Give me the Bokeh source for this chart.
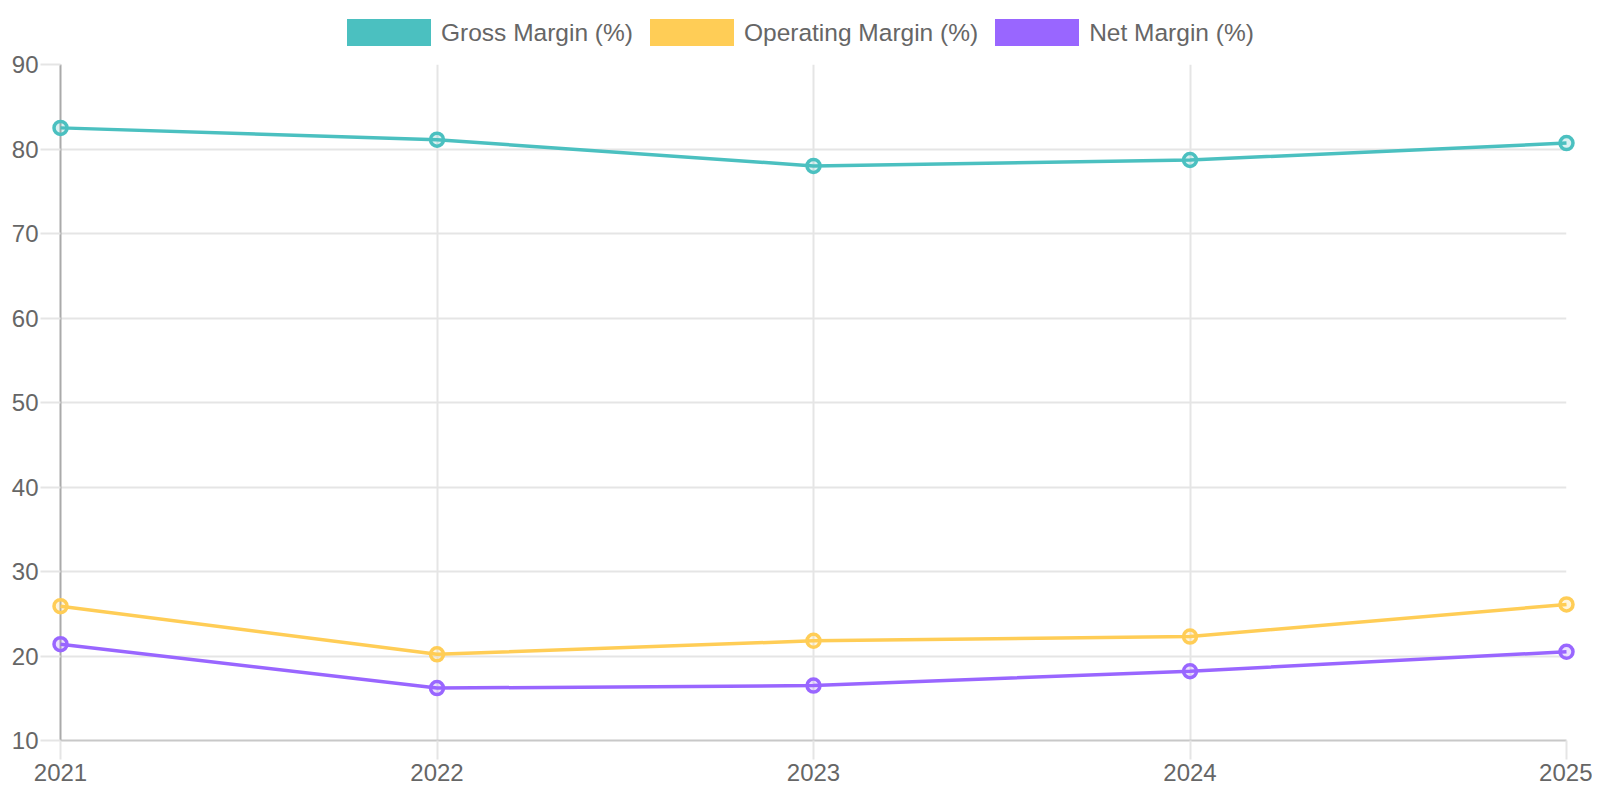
from bokeh.plotting import figure
from bokeh.models import ColumnDataSource, FixedTicker, Range1d, Legend, LegendItem
from bokeh.layouts import column
from bokeh.embed import file_html
from bokeh.resources import INLINE

years = [2021, 2022, 2023, 2024, 2025]
year_labels = ["2021", "2022", "2023", "2024", "2025"]
gross_margin = [82.5, 81.1, 78.0, 78.7, 80.7]
operating_margin = [25.9, 20.2, 21.8, 22.3, 26.1]
net_margin = [21.4, 16.2, 16.5, 18.2, 20.5]
y_ticks = [10, 20, 30, 40, 50, 60, 70, 80, 90]

series = [
    ("Gross Margin (%)", gross_margin, "#4BC0C0"),
    ("Operating Margin (%)", operating_margin, "#FFCD56"),
    ("Net Margin (%)", net_margin, "#9966FF"),
]

FONT = "Liberation Sans"
TXT = "#666666"
GRID = "#e5e5e5"

# main chart
p = figure(width=1592, height=744, output_backend="svg", toolbar_location=None,
           x_range=Range1d(2021, 2025), y_range=Range1d(10, 90),
           min_border_left=60, min_border_right=26, min_border_top=18, min_border_bottom=50)
p.outline_line_color = None
p.background_fill_color = "white"

for ax in (p.xaxis[0], p.yaxis[0]):
    ax.major_label_text_font = FONT
    ax.major_label_text_font_size = "24px"
    ax.major_label_text_color = TXT
    ax.major_tick_in = 0
    ax.minor_tick_line_color = None
    ax.major_tick_line_color = GRID
    ax.major_tick_line_width = 2
    ax.axis_line_width = 2

p.xaxis.ticker = FixedTicker(ticks=years)
p.xaxis.major_label_overrides = {y: l for y, l in zip(years, year_labels)}
p.xaxis.major_tick_out = 19
p.xaxis.major_label_standoff = 4
p.xaxis.axis_line_color = "#c8c8c8"

p.yaxis.ticker = FixedTicker(ticks=y_ticks)
p.yaxis.major_tick_out = 20
p.yaxis.major_label_standoff = 2
p.yaxis.axis_line_color = "#aaaaaa"

p.xgrid.ticker = FixedTicker(ticks=years)
p.ygrid.ticker = FixedTicker(ticks=y_ticks)
for g in (p.xgrid[0], p.ygrid[0]):
    g.grid_line_color = GRID
    g.grid_line_width = 2

for name, vals, color in series:
    src = ColumnDataSource(dict(x=years, y=vals))
    r1 = p.line("x", "y", source=src, line_color=color, line_width=3.5)
    r2 = p.scatter("x", "y", source=src, size=13, line_color=color, line_width=3.5,
                   fill_color=color, fill_alpha=0.2)
    r1.level = "overlay"
    r2.level = "overlay"

# legend strip
lf = figure(width=1592, height=46, output_backend="svg", toolbar_location=None,
            x_axis_type=None, y_axis_type=None, x_range=Range1d(0, 1), y_range=Range1d(0, 1),
            min_border_left=0, min_border_right=0, min_border_top=0, min_border_bottom=0)
lf.outline_line_color = None
lf.xgrid.visible = False
lf.ygrid.visible = False
items = []
for name, vals, color in series:
    dummy = lf.quad(left=[0], right=[0], top=[0], bottom=[0], fill_color=color,
                    line_color=color, line_width=0)
    dummy.visible = False
    items.append(LegendItem(label=name, renderers=[dummy]))

legend = Legend(items=items, orientation="horizontal", location=(276, -4),
                glyph_width=105, glyph_height=35, label_height=35, label_standoff=0,
                spacing=6, padding=0, margin=0,
                label_text_font=FONT, label_text_font_size="24.5px", label_text_color=TXT,
                border_line_color=None, background_fill_alpha=0)
lf.add_layout(legend, "center")

layout = column(lf, p, spacing=0)
open("out.html", "w").write(file_html(layout, INLINE))
